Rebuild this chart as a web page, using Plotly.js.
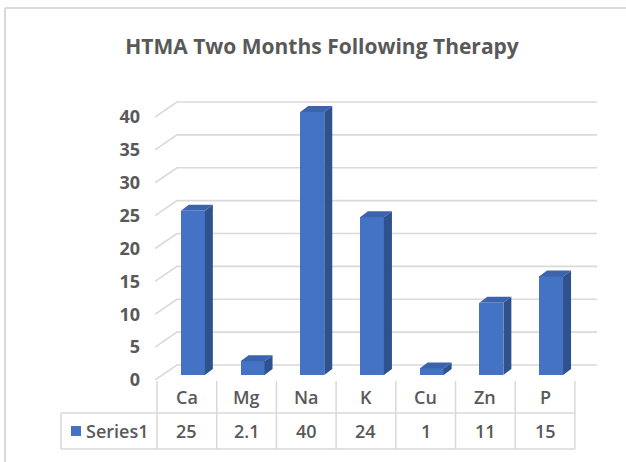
<!DOCTYPE html>
<html>
<head>
<meta charset="utf-8">
<script src="https://cdn.plot.ly/plotly-3.0.1.min.js"></script>
<style>
html,body{margin:0;padding:0;background:#fff;}
#chart{width:626px;height:462px;}
</style>
</head>
<body>
<div id="chart"></div>
<script>
// ---- data ----
const categories = ["Ca", "Mg", "Na", "K", "Cu", "Zn", "P"];
const seriesName = "Series1";
const values = [25, 2.1, 40, 24, 1, 11, 15];
const valueLabels = ["25", "2.1", "40", "24", "1", "11", "15"];
const yTicks = [0, 5, 10, 15, 20, 25, 30, 35, 40];
const titleText = "HTMA Two Months Following Therapy";

// ---- style / geometry ----
const FRONT = "#4472C4", SIDE = "#2F528F", TOP = "#3B64AD";
const GRID = "#D9D9D9", TEXT = "#595959";
const FONT = "'Open Sans', 'Liberation Sans', sans-serif";
const pxX = 59.7;          // px per category
const pxY = 6.575;         // px per unit
const xr = [-0.5 - 2 / pxX, -0.5 - 2 / pxX + 442 / pxX];
const yr = [0, 285 / pxY];
const wallDX = 22 / pxX, wallDY = 15 / pxY;   // back wall offset
const barW = 24 / pxX;
const barOX = 6 / pxX, barOY = 5 / pxY;        // bar front plane offset
const depDX = 8 / pxX, depDY = 6 / pxY;        // bar depth

const idx = categories.map((c, i) => i);

const shapes = [];
const annotations = [];

// back-wall gridlines + left diagonals (drawn below the bars)
yTicks.forEach(t => {
  shapes.push({type: "path", xref: "x", yref: "y", layer: "below",
    path: `M${xr[0]},${t} L${xr[0] + wallDX},${t + wallDY} L${xr[1]},${t + wallDY}`,
    line: {color: GRID, width: 1.6}});
});

// bar side faces and top faces
const sx = [], sy = [], tx = [], ty = [];
idx.forEach(i => {
  const v = values[i];
  const l = i - barW / 2 + barOX, r = i + barW / 2 + barOX;
  const b = barOY, tp = v + barOY;
  sx.push(r, r + depDX, r + depDX, r, r, null);
  sy.push(b, b + depDY, tp + depDY, tp, b, null);
  tx.push(l, l + depDX, r + depDX, r, l, null);
  ty.push(tp, tp + depDY, tp + depDY, tp, tp, null);
});

const traces = [
  {type: "bar", x: idx, y: values, base: barOY, width: barW, offset: -barW / 2 + barOX,
   marker: {color: FRONT, line: {width: 0}}, name: seriesName, showlegend: false},
  {type: "scatter", mode: "lines", x: sx, y: sy, fill: "toself", fillcolor: SIDE,
   line: {width: 0, color: SIDE}, hoverinfo: "skip", showlegend: false},
  {type: "scatter", mode: "lines", x: tx, y: ty, fill: "toself", fillcolor: TOP,
   line: {width: 0, color: TOP}, hoverinfo: "skip", showlegend: false}
];

// ---- data table (below plot) ----
const line = {color: GRID, width: 1.5};
const py = px => (380 - px) / 285;
const pxToPaperX = px => (px - 155) / 442;
for (let k = 0; k <= categories.length; k++) {
  shapes.push({type: "line", xref: "x", yref: "paper", x0: k - 0.5, x1: k - 0.5,
    y0: py(381), y1: py(449), line});
}
shapes.push({type: "line", xref: "paper", yref: "paper", x0: pxToPaperX(61), x1: pxToPaperX(575),
  y0: py(413), y1: py(413), line});
shapes.push({type: "line", xref: "paper", yref: "paper", x0: pxToPaperX(61), x1: pxToPaperX(575),
  y0: py(449), y1: py(449), line});
shapes.push({type: "line", xref: "paper", yref: "paper", x0: pxToPaperX(61), x1: pxToPaperX(61),
  y0: py(413), y1: py(449), line});
// legend key
shapes.push({type: "rect", xref: "paper", yref: "paper", x0: pxToPaperX(71), x1: pxToPaperX(81),
  y0: py(436), y1: py(426), fillcolor: FRONT, line: {width: 0}});
// outer chart frame
shapes.push({type: "line", xref: "paper", yref: "paper", x0: pxToPaperX(5), x1: pxToPaperX(5),
  y0: py(8), y1: py(470), line: {color: GRID, width: 2}});
shapes.push({type: "line", xref: "paper", yref: "paper", x0: pxToPaperX(5), x1: pxToPaperX(640),
  y0: py(8), y1: py(8), line: {color: GRID, width: 2}});

const tfont = {family: FONT, size: 18, color: TEXT, weight: 600};
categories.forEach((c, i) => {
  annotations.push({xref: "x", yref: "paper", x: i, y: py(397), text: c, showarrow: false,
    xanchor: "center", yanchor: "middle", font: tfont});
  annotations.push({xref: "x", yref: "paper", x: i, y: py(431), text: valueLabels[i], showarrow: false,
    xanchor: "center", yanchor: "middle", font: tfont});
});
annotations.push({xref: "paper", yref: "paper", x: pxToPaperX(84), y: py(431), text: seriesName,
  showarrow: false, xanchor: "left", yanchor: "middle", font: tfont});

const layout = {
  width: 626, height: 462,
  margin: {l: 155, r: 29, t: 95, b: 82, pad: 0},
  paper_bgcolor: "#ffffff", plot_bgcolor: "rgba(0,0,0,0)",
  showlegend: false,
  title: {text: titleText, x: 322 / 626, xanchor: "center", y: 1 - 47 / 462, yanchor: "middle",
    font: {family: FONT, size: 21, color: TEXT, weight: 700}},
  xaxis: {range: xr, showgrid: false, zeroline: false, showline: false, showticklabels: false,
    ticks: "", fixedrange: true},
  yaxis: {range: yr, tickvals: yTicks, ticktext: yTicks.map(String), showgrid: false, zeroline: false,
    showline: false, ticks: "", ticklabelstandoff: 14,
    tickfont: {family: FONT, size: 18, color: TEXT, weight: 700}, fixedrange: true},
  shapes, annotations, bargap: 0
};

Plotly.newPlot("chart", traces, layout, {displayModeBar: false, staticPlot: true});
</script>
</body>
</html>
